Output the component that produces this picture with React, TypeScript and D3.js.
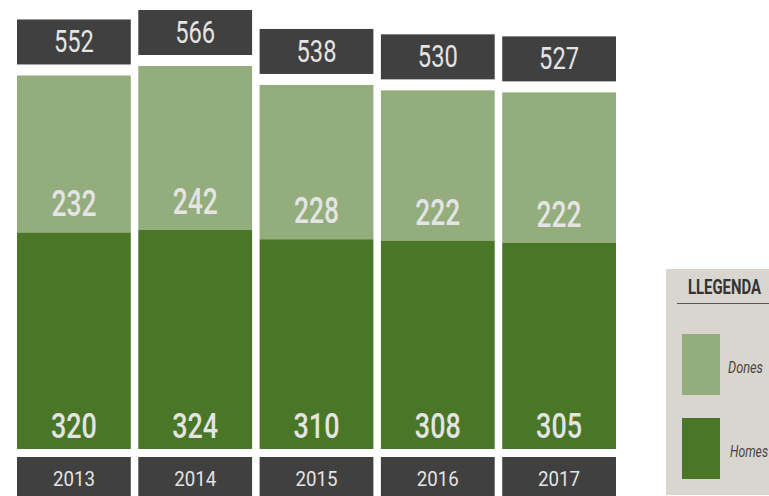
import React from "react";
import * as d3 from "d3";

const years = ["2013", "2014", "2015", "2016", "2017"];
const dones = [232, 242, 228, 222, 222];
const homes = [320, 324, 310, 308, 305];
const totals = [552, 566, 538, 530, 527];
const legendLabels = ["Dones", "Homes"];
const legendTitle = "LLEGENDA";

const W = 769;
const H = 496;
const LIGHT = "#93ad7c";
const DARK = "#4a7628";
const BOX = "#404040";
const TXT = "#e4e4e4";
const FONT = "Roboto, 'Liberation Sans', sans-serif";

function CText(props: any) {
  const { w, children, ...rest } = props;
  return (
    <text {...rest} textLength={w} lengthAdjust="spacingAndGlyphs" fontFamily={FONT}>
      {children}
    </text>
  );
}

export default function App() {
  const x = d3.scaleBand<string>().domain(years).range([17, 616]).paddingInner(0.062).paddingOuter(0);
  const y = d3.scaleLinear().domain([0, 566]).range([449, 66]);
  const bw = x.bandwidth();

  return (
    <svg width={W} height={H} style={{ position: "absolute", left: 0, top: 0, display: "block" }}>
      <rect x={0} y={0} width={W} height={H} fill="#ffffff" />
      {years.map((yr, i) => {
        const x0 = x(yr)!;
        const cx = x0 + bw / 2;
        const yTop = y(homes[i] + dones[i]);
        const yMid = y(homes[i]);
        const y0 = y(0);
        return (
          <g key={yr}>
            <rect x={x0} y={yTop} width={bw} height={yMid - yTop} fill={LIGHT} />
            <rect x={x0} y={yMid} width={bw} height={y0 - yMid} fill={DARK} />
            <rect x={x0} y={yTop - 56} width={bw} height={45} fill={BOX} />
            <CText x={cx - 20} w={40} y={yTop - 23} fill={TXT} fontSize={31}>
              {totals[i]}
            </CText>
            <CText x={cx - 22.5} w={45} y={yMid - 16} fill={TXT} fontSize={36} fontWeight={500}>
              {dones[i]}
            </CText>
            <CText x={cx - 23} w={46} y={y0 - 11} fill={TXT} fontSize={35} fontWeight={500}>
              {homes[i]}
            </CText>
            <rect x={x0} y={457} width={bw} height={45} fill={BOX} />
            <CText x={cx - 21} w={42} y={486} fill={TXT} fontSize={20}>
              {yr}
            </CText>
          </g>
        );
      })}
      <g>
        <rect x={666} y={269} width={110} height={226} fill="#d9d6d0" />
        <CText x={688} w={73} y={294} fill="#333333" fontWeight="bold" fontSize={20}>
          {legendTitle}
        </CText>
        <line x1={677} x2={769} y1={303.5} y2={303.5} stroke="#555555" strokeWidth={1} />
        <rect x={682} y={334} width={38} height={61} fill={LIGHT} />
        <CText x={728} w={35} y={373} fill="#444444" fontStyle="italic" fontSize={17}>
          {legendLabels[0]}
        </CText>
        <rect x={682} y={418} width={38} height={61} fill={DARK} />
        <CText x={730} w={38} y={457} fill="#444444" fontStyle="italic" fontSize={17}>
          {legendLabels[1]}
        </CText>
      </g>
    </svg>
  );
}
